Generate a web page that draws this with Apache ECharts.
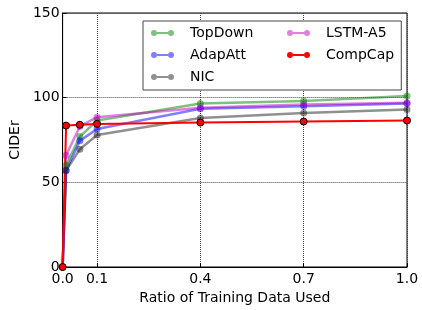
<!DOCTYPE html>
<html>
<head>
<meta charset="utf-8">
<script src="https://cdn.jsdelivr.net/npm/echarts@6/dist/echarts.min.js"></script>
<style>
  html, body { margin: 0; padding: 0; background: #fff; }
  #main { width: 422px; height: 310px; }
</style>
</head>
<body>
<div id="main"></div>
<script>
    var ratios = [0, 0.01, 0.05, 0.1, 0.4, 0.7, 1.0];
    var topDown = [0, 60, 77, 86.5, 96.5, 98, 101];
    var adapAtt = [0, 57, 74.5, 81.5, 93.5, 95, 96.5];
    var nic = [0, 57, 69.5, 78, 88, 91, 93];
    var lstmA5 = [0, 66, 83, 88.5, 94, 96, 97];
    var compCap = [0, 83.5, 84, 84.5, 85.3, 85.9, 86.5];
    var xTicks = [0, 0.1, 0.4, 0.7, 1.0];
    // legend columns
    var legendCol1 = ['TopDown', 'AdapAtt', 'NIC'];
    var legendCol2 = ['LSTM-A5', 'CompCap'];

    var myChart = echarts.init(document.getElementById('main'));

    function pairs(vals) {
        var out = [];
        for (var i = 0; i < ratios.length; i++) {
            out.push([ratios[i], vals[i]]);
        }
        return out;
    }

    // faded matplotlib-like line
    function fadedLine(name, color, vals) {
        return {
            name: name,
            type: 'line',
            data: pairs(vals),
            symbol: 'circle',
            symbolSize: 7,
            lineStyle: { color: color, width: 2.5, opacity: 0.5 },
            itemStyle: { color: color, opacity: 0.5 },
            animation: false
        };
    }

    var font = 'DejaVu Sans';
    // line with a dot at each end, like the matplotlib legend handle
    var handleIcon = 'path://M0,3a3,3 0 1,0 6,0a3,3 0 1,0 -6,0zM17,3a3,3 0 1,0 6,0a3,3 0 1,0 -6,0zM6,2h11v2h-11z';

    function legendCol(names, left, top, padding, boxed) {
        return {
            orient: 'vertical',
            left: left,
            top: top,
            padding: padding,
            borderColor: boxed ? '#444' : 'transparent',
            borderWidth: boxed ? 1 : 0,
            backgroundColor: boxed ? '#fff' : 'transparent',
            z: boxed ? 4 : 5,
            itemWidth: 23,
            itemHeight: 14,
            itemGap: 8,
            icon: handleIcon,
            itemStyle: { borderWidth: 0 },
            data: names,
            formatter: '{s| }{a|{name}}',
            textStyle: {
                fontFamily: font, fontSize: 14, color: '#000',
                rich: {
                    s: { width: 11 },
                    a: { fontFamily: font, fontSize: 14, color: '#000' }
                }
            }
        };
    }

    myChart.setOption({
        backgroundColor: '#fff',
        textStyle: { fontFamily: font },
        grid: {
            left: 61, right: 15, top: 13, bottom: 40,
            show: true, borderColor: '#000', borderWidth: 1
        },
        legend: [
            legendCol(legendCol1, 143, 21, [5, 148, 6, 8], true),
            legendCol(legendCol2, 287, 26, 0, false)
        ],
        xAxis: {
            type: 'value',
            min: 0,
            max: 1,
            name: 'Ratio of Training Data Used',
            nameLocation: 'middle',
            nameGap: 24,
            nameTextStyle: { fontFamily: font, fontSize: 14, color: '#000' },
            axisLine: { lineStyle: { color: '#000' } },
            axisTick: { inside: true, length: 4, customValues: xTicks, lineStyle: { color: '#000' } },
            axisLabel: {
                customValues: xTicks,
                fontFamily: font, fontSize: 14, color: '#000', margin: 5,
                formatter: function (v) { return v.toFixed(1); }
            },
            splitLine: { show: true, lineStyle: { color: '#444', type: 'dotted', width: 1 } }
        },
        yAxis: {
            type: 'value',
            min: 0,
            max: 150,
            interval: 50,
            name: 'CIDEr',
            nameLocation: 'middle',
            nameGap: 29,
            nameTextStyle: { fontFamily: font, fontSize: 14, color: '#000' },
            axisLine: { lineStyle: { color: '#000' } },
            axisTick: { inside: true, length: 4, lineStyle: { color: '#000' } },
            axisLabel: { fontFamily: font, fontSize: 14, color: '#000', margin: 3 },
            splitLine: { show: true, lineStyle: { color: '#444', type: 'dotted', width: 1 } }
        },
        series: [
            fadedLine('TopDown', '#008000', topDown),
            fadedLine('AdapAtt', '#0000ff', adapAtt),
            fadedLine('NIC', '#222222', nic),
            fadedLine('LSTM-A5', '#c000c0', lstmA5),
            {
                name: 'CompCap',
                type: 'line',
                data: pairs(compCap),
                symbol: 'circle',
                symbolSize: 7,
                lineStyle: { color: '#ff0000', width: 2 },
                itemStyle: { color: '#ff0000', borderColor: '#000', borderWidth: 1 },
                animation: false
            }
        ]
    });
</script>
</body>
</html>
